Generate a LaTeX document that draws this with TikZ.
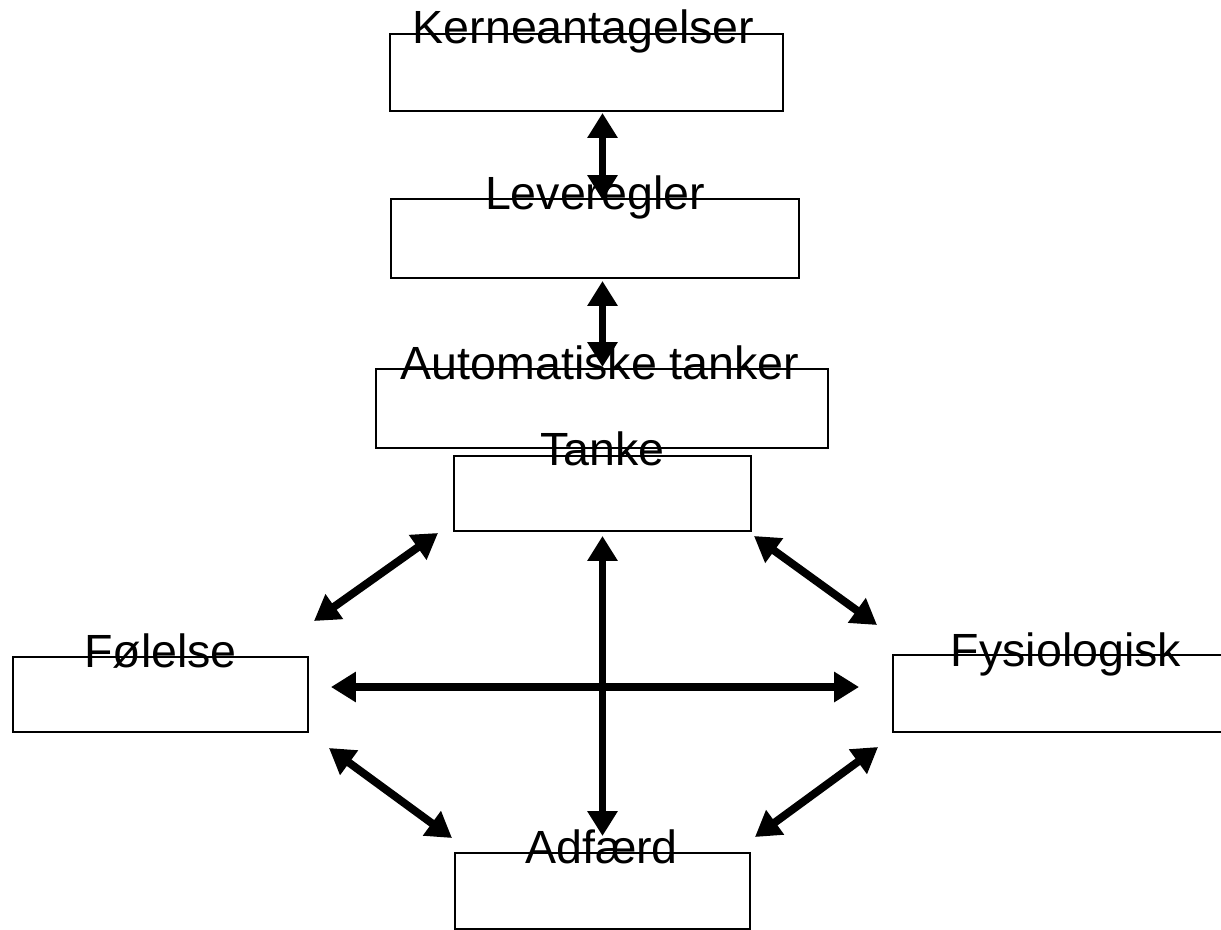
\documentclass[tikz,border=0pt]{standalone}
\usepackage{fontspec}
\setmainfont{Liberation Sans}
\usetikzlibrary{calc,arrows.meta,positioning}

\begin{document}
\begin{tikzpicture}[x=0.02cm,y=-0.02cm]

\tikzset{boxnode/.style={draw=black,line width=1.6pt,inner sep=0pt,outer sep=0pt,minimum height=1.54cm},
boxlabel/.style={anchor=base,inner sep=0pt,font=\fontsize{26.5}{30}\selectfont},
twoway/.style={line width=4.5pt,{Triangle[length=0.5cm,width=0.58cm]}-{Triangle[length=0.5cm,width=0.58cm]}}}

\useasboundingbox (0,0) rectangle (1221,930);

% Boxes
\node[boxnode,minimum width=7.86cm] (kerne) at (586.5,72.5) {};
\node[boxnode,minimum width=8.16cm,minimum height=1.58cm] (leve) at (595,238.5) {};
\node[boxnode,minimum width=9.04cm,minimum height=1.58cm] (auto) at (602,408.5) {};
\node[boxnode,minimum width=5.94cm,minimum height=1.5cm] (tanke) at (602.5,493.5) {};
\node[boxnode,minimum width=5.9cm,minimum height=1.5cm] (foelelse) at (160.5,694.5) {};
\node[boxnode,minimum width=6.92cm] (fysio) at (1066,693.5) {};
\node[boxnode,minimum width=5.9cm,minimum height=1.52cm] (adfaerd) at (602.5,891) {};

% Box titles, sitting on the top edge
\node[boxlabel] (kerneTxt) at ($(kerne.north)+(-3,9)$) {Kerneantagelser};
\node[boxlabel] (leveTxt) at ($(leve.north)+(0,10)$) {Leveregler};
\node[boxlabel] (autoTxt) at ($(auto.north)+(-2,10)$) {Automatiske tanker};
\node[boxlabel] (tankeTxt) at ($(tanke.north)+(0,9)$) {Tanke};
\node[boxlabel] (foelelseTxt) at ($(foelelse.north)+(0,10)$) {Følelse};
\node[boxlabel] (fysioTxt) at ($(fysio.north)+(0,11)$) {Fysiologisk};
\node[boxlabel] (adfaerdTxt) at ($(adfaerd.north)+(-1,10)$) {Adfærd};

% Vertical chain
\draw[twoway] ($(kerne.south -| tanke)+(0,2)$) -- ($(leve.north -| tanke)+(0,1)$);
\draw[twoway] ($(leve.south -| tanke)+(0,3)$) -- ($(auto.north -| tanke)+(0,-2)$);
\draw[twoway] ($(tanke.south)+(0,5)$) -- ($(adfaerd.north)+(0,-17)$);

% Cross and diagonals
\draw[twoway] ($(foelelse.east)+(23,-7.5)$) -- ($(fysio.west)+(-34,-6.5)$);
\draw[twoway] ($(tanke.south west)+(-16,2)$) -- ($(foelelse.north east)+(6,-36)$);
\draw[twoway] ($(tanke.south east)+(3,5)$) -- ($(fysio.north west)+(-16,-30)$);
\draw[twoway] ($(foelelse.south east)+(21,16)$) -- ($(adfaerd.north west)+(-3,-15)$);
\draw[twoway] ($(fysio.south west)+(-15,15)$) -- ($(adfaerd.north east)+(5,-16)$);

\end{tikzpicture}
\end{document}
